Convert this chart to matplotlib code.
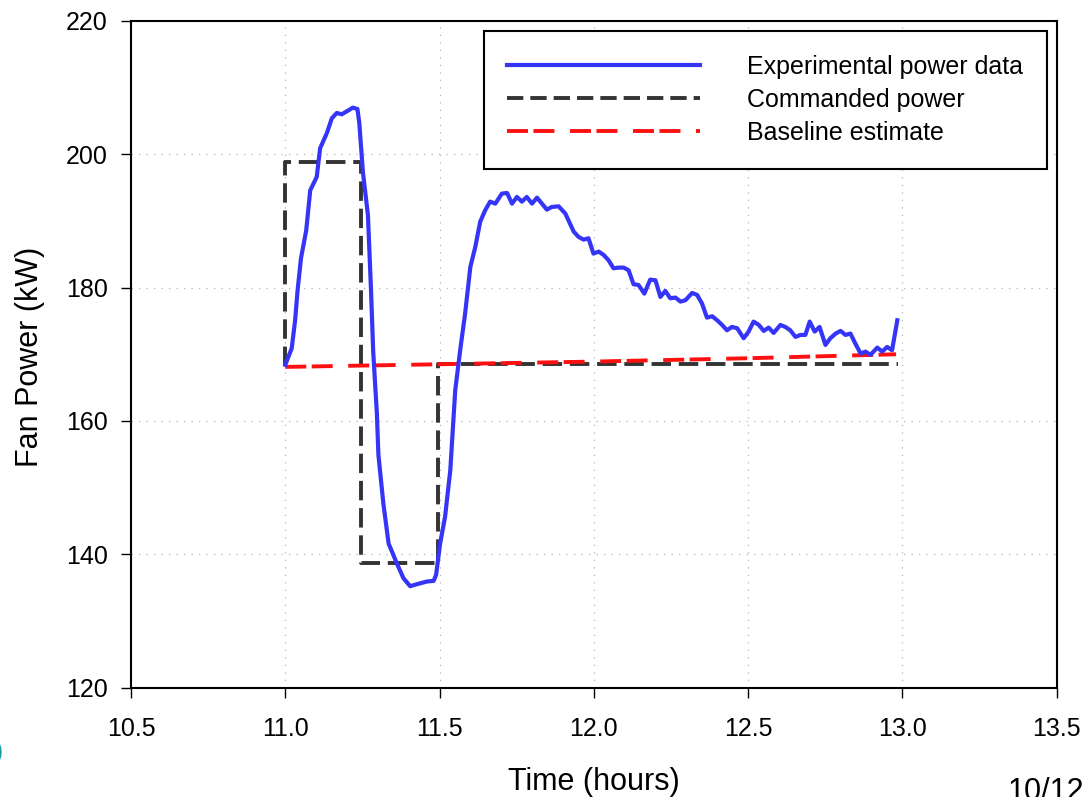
import matplotlib
matplotlib.use("Agg")
import matplotlib.pyplot as plt
from matplotlib.lines import Line2D

plt.rcParams['font.family'] = ['Liberation Sans', 'DejaVu Sans']

# ---------------- data ----------------
exp_time = [11.000, 11.021, 11.032, 11.040, 11.051, 11.068, 11.081, 11.102, 11.113, 11.135,
            11.151, 11.167, 11.183, 11.205, 11.219, 11.234, 11.240, 11.252, 11.268, 11.278,
            11.285, 11.297, 11.302, 11.318, 11.335, 11.362, 11.383, 11.405, 11.427, 11.459,
            11.481, 11.489, 11.502, 11.518, 11.535, 11.551, 11.567, 11.583, 11.600, 11.616,
            11.632, 11.648, 11.664, 11.681, 11.702, 11.719, 11.735, 11.751, 11.767, 11.783,
            11.800, 11.816, 11.832, 11.848, 11.864, 11.886, 11.908, 11.918, 11.935, 11.951,
            11.967, 11.983, 11.999, 12.016, 12.032, 12.048, 12.064, 12.081, 12.097, 12.113,
            12.129, 12.145, 12.164, 12.183, 12.200, 12.216, 12.232, 12.248, 12.265, 12.281,
            12.297, 12.319, 12.335, 12.351, 12.367, 12.384, 12.400, 12.416, 12.432, 12.448,
            12.465, 12.486, 12.502, 12.518, 12.535, 12.551, 12.567, 12.583, 12.605, 12.621,
            12.637, 12.654, 12.670, 12.686, 12.700, 12.716, 12.732, 12.751, 12.767, 12.784,
            12.800, 12.816, 12.832, 12.848, 12.865, 12.881, 12.897, 12.919, 12.935, 12.951,
            12.967, 12.984]
exp_power = [168.4, 170.9, 175.1, 179.6, 184.4, 188.6, 194.6, 196.6, 200.9, 203.2,
             205.4, 206.2, 206.0, 206.6, 207.0, 206.8, 204.7, 197.2, 190.9, 179.6,
             170.5, 161.1, 154.9, 147.6, 141.6, 138.6, 136.4, 135.2, 135.5, 135.9,
             136.0, 136.9, 141.6, 145.6, 152.6, 164.6, 170.6, 176.1, 183.1, 186.1,
             189.9, 191.6, 192.9, 192.6, 194.1, 194.2, 192.6, 193.6, 192.9, 193.6,
             192.6, 193.5, 192.6, 191.7, 192.1, 192.2, 191.1, 190.1, 188.4, 187.6,
             187.2, 187.4, 185.1, 185.4, 184.9, 184.1, 182.9, 183.0, 183.0, 182.6,
             180.5, 180.4, 179.1, 181.2, 181.1, 178.6, 179.5, 178.4, 178.5, 177.9,
             178.1, 179.2, 178.9, 177.6, 175.5, 175.7, 175.1, 174.4, 173.6, 174.1,
             173.9, 172.4, 173.4, 174.9, 174.4, 173.5, 174.0, 173.2, 174.4, 174.1,
             173.6, 172.6, 172.9, 172.9, 174.9, 173.4, 174.1, 171.4, 172.4, 173.1,
             173.5, 172.9, 173.1, 171.6, 170.1, 170.4, 169.9, 171.0, 170.4, 171.1,
             170.6, 175.1]

cmd_time = [11.000, 11.000, 11.245, 11.245, 11.495, 11.495, 12.985]
cmd_power = [168.2, 198.8, 198.8, 138.7, 138.7, 168.6, 168.6]

base_time = [11.000, 11.500, 12.000, 12.500, 12.980]
base_power = [168.1, 168.5, 168.9, 169.4, 170.0]

series_labels = ["Experimental power data", "Commanded power", "Baseline estimate"]
x_ticks = [10.5, 11.0, 11.5, 12.0, 12.5, 13.0, 13.5]
y_ticks = [120, 140, 160, 180, 200, 220]

# ---------------- figure ----------------
W, H = 1086, 797
fig = plt.figure(figsize=(W / 100, H / 100), dpi=100)
L, R, T, B = 131, 1056.5, 21, 687.5
ax = fig.add_axes([L / W, 1 - B / H, (R - L) / W, (B - T) / H])

blue = '#3535f8'
black = '#333333'
red = '#ff1010'
cmd_dash = (5.0, 2.0)
base_dash = (5.4, 1.4, 5.4, 4.0)

ax.plot(cmd_time, cmd_power, color=black, lw=2.8, dashes=cmd_dash, zorder=3)
ax.plot(base_time, base_power, color=red, lw=2.8, dashes=base_dash, zorder=4)
ax.plot(exp_time, exp_power, color=blue, lw=3.0, zorder=5, solid_joinstyle='round')

ax.set_xlim(10.5, 13.5)
ax.set_ylim(120, 220)
ax.set_xticks(x_ticks)
ax.set_xticklabels([f"{v:.1f}" for v in x_ticks])
ax.set_yticks(y_ticks)
ax.set_yticklabels([str(v) for v in y_ticks])

ax.grid(True, color='#b5b5b5', linestyle=(0, (1, 5)), linewidth=0.9)
ax.set_axisbelow(True)

for s in ax.spines.values():
    s.set_linewidth(1.5)
    s.set_color('black')

ax.tick_params(axis='both', direction='out', length=7.2, width=1.0, labelsize=18, colors='black')
ax.tick_params(axis='x', pad=14)
ax.tick_params(axis='y', pad=9.5)

handles = [
    Line2D([], [], color=blue, lw=3.0),
    Line2D([], [], color=black, lw=2.8, dashes=(4.2, 1.8)),
    Line2D([], [], color=red, lw=2.8, dashes=base_dash),
]
leg = ax.legend(handles, series_labels, loc='upper right',
                bbox_to_anchor=((1047 - L) / (R - L), (B - 31) / (B - T)),
                fontsize=18, handlelength=7.7, handletextpad=1.9, borderpad=0.95,
                labelspacing=0.36, frameon=True, fancybox=False, borderaxespad=0)
leg.get_frame().set_edgecolor('black')
leg.get_frame().set_linewidth(1.5)
leg.get_frame().set_alpha(1)

fig.text(30 / W, 1 - 357 / H, 'Fan Power (kW)', rotation=90, ha='center', va='center', fontsize=22)
fig.text(594 / W, 1 - 782 / H, 'Time (hours)', ha='center', va='center', fontsize=22)
fig.text(1008 / W, 1 - 800 / H, '10/12', ha='left', va='baseline', fontsize=22)
fig.text(-2 / W, 1 - 752 / H, ')', ha='center', va='center', fontsize=20, color='#1f9aa5')

fig.savefig('out.png', dpi=100)
